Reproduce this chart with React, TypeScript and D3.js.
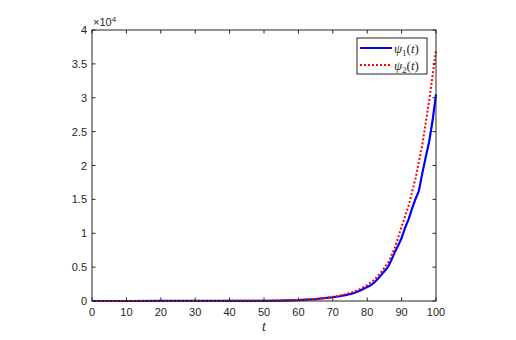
import React, { useEffect, useRef } from "react"
import * as d3 from "d3"

// values in units of 1e4
const tRed = [0, 10, 20, 30, 40, 50, 55, 60, 62, 64, 66, 68, 70, 72, 74, 76, 78, 80, 82, 84, 86, 88, 90, 92, 94, 96, 98, 100]
const psi2 = [0, 0.0003, 0.0006, 0.001, 0.002, 0.004, 0.008, 0.016, 0.021, 0.027, 0.035, 0.046, 0.063, 0.08, 0.105, 0.135, 0.18, 0.236, 0.31, 0.42, 0.56, 0.78, 1.1, 1.4, 1.8, 2.3, 2.95, 3.7]

const tBlue = [0, 10, 20, 30, 40, 50, 55, 60, 65, 70, 72, 74, 76, 78, 80, 81, 82, 83, 84, 85, 86, 87, 88, 89, 90, 91, 92, 93, 94, 95, 96, 97, 98, 99, 100]
const psi1 = [0, 0.0002, 0.0005, 0.001, 0.002, 0.003, 0.006, 0.013, 0.028, 0.055, 0.07, 0.09, 0.115, 0.155, 0.205, 0.23, 0.27, 0.32, 0.38, 0.44, 0.5, 0.6, 0.72, 0.82, 0.93, 1.08, 1.2, 1.36, 1.5, 1.62, 1.88, 2.12, 2.35, 2.66, 3.05]

const xTicks = [0, 10, 20, 30, 40, 50, 60, 70, 80, 90, 100]
const yTicks = [0, 0.5, 1, 1.5, 2, 2.5, 3, 3.5, 4]

const App = () => {
  const ref = useRef<SVGSVGElement>(null)

  useEffect(() => {
    const svg = d3.select(ref.current)
    svg.selectAll("*").remove()

    const left = 92, right = 436, top = 30, bottom = 301
    const axisColor = "#262626"
    const font = "'Liberation Sans', Arial, sans-serif"

    const x = d3.scaleLinear().domain([0, 100]).range([left, right])
    const y = d3.scaleLinear().domain([0, 4]).range([bottom, top])

    svg.append("rect").attr("x", 0).attr("y", 0).attr("width", 516).attr("height", 340).attr("fill", "#fff")

    const line = d3.line<[number, number]>().x(d => x(d[0])).y(d => y(d[1]))

    svg.append("path")
      .attr("d", line(tBlue.map((t, i) => [t, psi1[i]] as [number, number])))
      .attr("fill", "none").attr("stroke", "#0000ff").attr("stroke-width", 2.2)

    svg.append("path")
      .attr("d", line(tRed.map((t, i) => [t, psi2[i]] as [number, number])))
      .attr("fill", "none").attr("stroke", "#ff0000").attr("stroke-width", 2)
      .attr("stroke-dasharray", "2,2")

    // box
    svg.append("rect")
      .attr("x", left).attr("y", top).attr("width", right - left).attr("height", bottom - top)
      .attr("fill", "none").attr("stroke", axisColor).attr("stroke-width", 1)

    const tl = 3.5
    xTicks.forEach(t => {
      svg.append("line").attr("x1", x(t)).attr("x2", x(t)).attr("y1", bottom).attr("y2", bottom - tl).attr("stroke", axisColor)
      svg.append("line").attr("x1", x(t)).attr("x2", x(t)).attr("y1", top).attr("y2", top + tl).attr("stroke", axisColor)
      svg.append("text").attr("x", x(t)).attr("y", bottom + 14.5).attr("text-anchor", "middle")
        .attr("font-family", font).attr("font-size", 11).attr("fill", axisColor).text(t)
    })
    yTicks.forEach(t => {
      svg.append("line").attr("x1", left).attr("x2", left + tl).attr("y1", y(t)).attr("y2", y(t)).attr("stroke", axisColor)
      svg.append("line").attr("x1", right).attr("x2", right - tl).attr("y1", y(t)).attr("y2", y(t)).attr("stroke", axisColor)
      svg.append("text").attr("x", left - 5).attr("y", y(t) + 4).attr("text-anchor", "end")
        .attr("font-family", font).attr("font-size", 11).attr("fill", axisColor).text(t)
    })

    // exponent
    const ex = svg.append("text").attr("x", left + 1).attr("y", top - 4)
      .attr("font-family", font).attr("font-size", 11).attr("fill", axisColor)
    ex.append("tspan").text("×10")
    ex.append("tspan").attr("dy", -4).attr("font-size", 8).text("4")

    svg.append("text").attr("x", (left + right) / 2).attr("y", 331).attr("text-anchor", "middle")
      .attr("font-family", "'Liberation Serif', serif").attr("font-style", "italic").attr("font-size", 14)
      .attr("fill", axisColor).text("t")

    // legend
    const lg = svg.append("g")
    lg.append("rect").attr("x", 357).attr("y", 38).attr("width", 70).attr("height", 36)
      .attr("fill", "#fff").attr("stroke", axisColor).attr("stroke-width", 1)
    const items = [
      { name: "1", color: "#0000ff", dash: null, yy: 48 },
      { name: "2", color: "#ff0000", dash: "2,2", yy: 65 }
    ]
    items.forEach(it => {
      lg.append("line").attr("x1", 360).attr("x2", 392).attr("y1", it.yy).attr("y2", it.yy)
        .attr("stroke", it.color).attr("stroke-width", 2).attr("stroke-dasharray", it.dash)
      const tx = lg.append("text").attr("x", 394).attr("y", it.yy + 4.5)
        .attr("font-family", "'Liberation Serif', serif").attr("font-size", 13).attr("fill", axisColor)
      tx.append("tspan").attr("font-style", "italic").text("ψ")
      tx.append("tspan").attr("font-size", 9).attr("dy", 3).text(it.name)
      tx.append("tspan").attr("dy", -3).text("(")
      tx.append("tspan").attr("font-style", "italic").text("t")
      tx.append("tspan").text(")")
    })
  }, [])

  return (
    <svg ref={ref} width={516} height={340} style={{ position: "absolute", left: 0, top: 0 }} />
  )
}

export default App
